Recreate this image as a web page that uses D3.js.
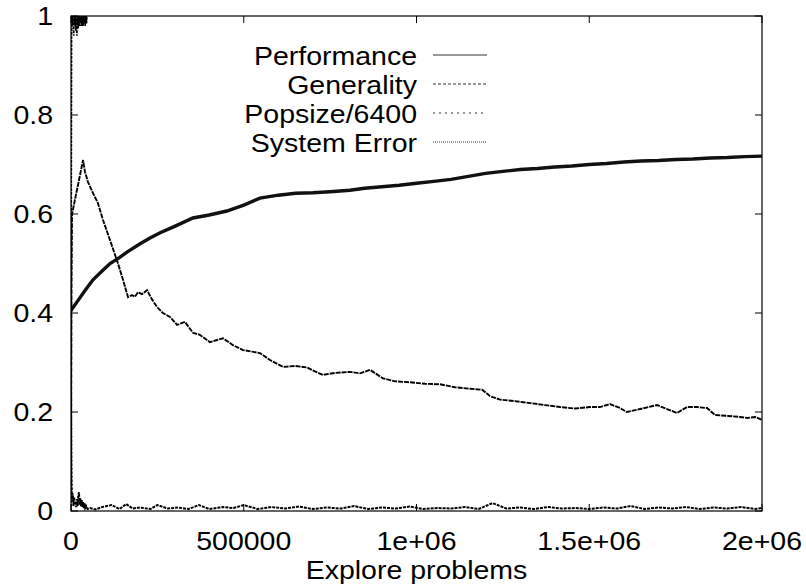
<!DOCTYPE html>
<html>
<head>
<meta charset="utf-8">
<script src="https://cdn.jsdelivr.net/npm/d3@7"></script>
<style>
  body { margin: 0; background: #fff; }
  text { font-family: "Liberation Sans", Arial, sans-serif; fill: #000; }
</style>
</head>
<body>
<script>
// values, [problems, value]
var perfPts = [[0,0.405],[20000,0.425],[40000,0.445],[63700,0.467],[90000,0.485],[113000,0.50],
  [140000,0.512],[162000,0.523],[200000,0.540],[230000,0.552],[258000,0.562],[300000,0.575],
  [353000,0.592],[400000,0.598],[451000,0.606],[500000,0.618],[547000,0.632],[600000,0.638],
  [650000,0.642],[700000,0.643],[750000,0.645],[807000,0.648],[850000,0.652],[900000,0.655],
  [950000,0.658],[1000000,0.662],[1050000,0.666],[1100000,0.670],[1150000,0.676],[1200000,0.682],
  [1250000,0.686],[1300000,0.690],[1350000,0.692],[1400000,0.695],[1450000,0.697],[1500000,0.700],
  [1550000,0.702],[1600000,0.705],[1650000,0.707],[1700000,0.708],[1750000,0.710],[1800000,0.711],
  [1850000,0.713],[1900000,0.714],[1950000,0.716],[2000000,0.717]];

var genPts = [[0,0.05],[1500,0.45],[3000,0.60],[35000,0.709],[40500,0.685],[49000,0.665],
  [63700,0.642],[78000,0.622],[92600,0.588],[113000,0.547],[136000,0.50],[150500,0.467],
  [165000,0.432],[176500,0.436],[185000,0.433],[194000,0.442],[205500,0.438],[220000,0.446],
  [234000,0.428],[249000,0.412],[266000,0.40],[286500,0.392],[307000,0.376],[330000,0.382],
  [353000,0.36],[373000,0.356],[402000,0.341],[420000,0.345],[440000,0.349],[469000,0.335],
  [498000,0.325],[524000,0.322],[547000,0.319],[576000,0.305],[614000,0.291],[648000,0.293],
  [683000,0.29],[706000,0.282],[729000,0.275],[764000,0.279],[807500,0.281],[836500,0.278],
  [865500,0.285],[903000,0.268],[938000,0.262],[981000,0.26],[1024600,0.257],[1068000,0.256],
  [1111500,0.25],[1155000,0.247],[1190000,0.245],[1213000,0.232],[1242000,0.225],[1285000,0.222],
  [1328500,0.218],[1372000,0.214],[1415000,0.21],[1459000,0.207],[1502000,0.21],[1531000,0.21],
  [1560000,0.216],[1589000,0.208],[1609000,0.20],[1647000,0.206],[1696000,0.214],[1725000,0.206],
  [1754000,0.198],[1783000,0.21],[1812000,0.21],[1841000,0.208],[1864000,0.194],[1902000,0.192],
  [1936000,0.19],[1957000,0.188],[1980000,0.19],[2000000,0.184]];

var popPts = [[0,0],[800,0.6],[1600,0.96],[2000,1.0],[3000,0.98],[4000,1.0],[5000,0.985],
  [6000,1.0],[7000,0.975],[8000,0.96],[9000,1.0],[10000,0.98],[11000,1.0],[12000,0.985],
  [13000,1.0],[14000,0.97],[15000,1.0],[16000,0.98],[17000,0.96],[18000,1.0],[19000,0.985],
  [20000,1.0],[21000,0.975],[22000,1.0],[23000,0.98],[24000,1.0],[25000,0.985],[26000,1.0],
  [27000,0.98],[28000,1.0],[29000,0.985],[30000,1.0],[31000,0.98],[32000,1.0],[33000,0.985],
  [34000,1.0],[35000,0.98],[36000,1.0],[37000,0.985],[38000,1.0],[39000,0.985],[40000,1.0],
  [41000,0.98],[42000,1.0],[43000,0.985],[44000,1.0],[45000,0.985],[46000,1.0],[48000,1.03],
  [60000,1.06],[2000000,1.06]];

var errPts = [[0,0.25],[1000,0.12],[2000,0.05],[3500,0.02],[5000,0.036],[7000,0.01],[9000,0.028],
  [11000,0.012],[13000,0.02],[15000,0.008],[17000,0.024],[19000,0.01],[21000,0.03],[23000,0.038],
  [25000,0.012],[27000,0.026],[29000,0.01],[31000,0.022],[33000,0.008],[35000,0.018],[37000,0.006],
  [39000,0.016],[41000,0.006],[44000,0.01],[48000,0.004],[55000,0.006],[70000,0.003],[90000,0.008],
  [118000,0.012],[140000,0.004],[160000,0.014],[178000,0.005],[200000,0.007],[230000,0.004],
  [250000,0.012],[280000,0.005],[310000,0.007],[340000,0.004],[370000,0.012],[400000,0.004],
  [440000,0.008],[470000,0.006],[500000,0.012],[540000,0.004],[580000,0.008],[620000,0.005],
  [660000,0.009],[700000,0.004],[740000,0.007],[780000,0.005],[820000,0.010],[860000,0.004],
  [900000,0.007],[940000,0.005],[980000,0.009],[1020000,0.004],[1060000,0.006],[1100000,0.005],
  [1140000,0.008],[1180000,0.004],[1220000,0.016],[1260000,0.005],[1300000,0.007],[1340000,0.004],
  [1380000,0.008],[1420000,0.005],[1460000,0.006],[1500000,0.004],[1540000,0.007],[1580000,0.005],
  [1620000,0.010],[1660000,0.004],[1700000,0.007],[1740000,0.005],[1780000,0.008],[1820000,0.004],
  [1860000,0.007],[1900000,0.005],[1940000,0.008],[1980000,0.004],[2000000,0.006]];

var xTicks = [0, 500000, 1000000, 1500000, 2000000];
var xTickLabels = ["0", "500000", "1e+06", "1.5e+06", "2e+06"];
var yTicks = [0, 0.2, 0.4, 0.6, 0.8, 1];
var yTickLabels = ["0", "0.2", "0.4", "0.6", "0.8", "1"];
var seriesNames = ["Performance", "Generality", "Popsize/6400", "System Error"];

var margin = {top: 16, right: 44, bottom: 77, left: 71},
	width = 806 - margin.left - margin.right,
	height = 588 - margin.top - margin.bottom;

var stretch = 1.14; // labels are drawn a bit wide

var x = d3.scaleLinear().domain([0, 2000000]).range([0, width]);
var y = d3.scaleLinear().domain([0, 1]).range([height, 0]);

var svg = d3.select('body').append('svg')
	.attr('width', 806)
	.attr('height', 588);

var main = svg.append('g')
	.attr('transform', 'translate(' + margin.left + ',' + margin.top + ')');

main.append('clipPath').attr('id', 'plotclip')
	.append('rect').attr('x', 0).attr('y', 0).attr('width', width).attr('height', height);

function label(g, px, py, str, anchor) {
	g.append('text')
		.attr('transform', 'translate(' + px + ',' + py + ') scale(' + stretch + ',1)')
		.attr('text-anchor', anchor)
		.style('font-size', '25px')
		.text(str);
}

// ticks (inside, mirrored) and labels
var tickLen = 7;
yTicks.forEach(function(v, i) {
	main.append('line').attr('x1', 0).attr('x2', tickLen).attr('y1', y(v)).attr('y2', y(v))
		.attr('stroke', '#000');
	main.append('line').attr('x1', width).attr('x2', width - tickLen).attr('y1', y(v)).attr('y2', y(v))
		.attr('stroke', '#000');
	label(main, -18, y(v) + 9, yTickLabels[i], 'end');
});
xTicks.forEach(function(v, i) {
	main.append('line').attr('x1', x(v)).attr('x2', x(v)).attr('y1', height).attr('y2', height - tickLen)
		.attr('stroke', '#000');
	main.append('line').attr('x1', x(v)).attr('x2', x(v)).attr('y1', 0).attr('y2', tickLen)
		.attr('stroke', '#000');
	label(main, x(v), height + 39, xTickLabels[i], 'middle');
});
label(main, width / 2, height + 68, 'Explore problems', 'middle');

// series
var line = d3.line()
	.x(function(d) { return x(d[0]); })
	.y(function(d) { return y(d[1]); });

var plot = main.append('g').attr('clip-path', 'url(#plotclip)');

var styles = [
	{pts: perfPts, width: 3.4, dash: null, color: '#111'},
	{pts: genPts, width: 1.9, dash: '5,1', color: '#000'},
	{pts: popPts, width: 1.6, dash: '3,1', color: '#000'},
	{pts: errPts, width: 2, dash: '3,1', color: '#000'}
];
var legendDash = [null, '3,2', '2,4', '1,1'];

styles.forEach(function(s) {
	plot.append('path')
		.datum(s.pts)
		.attr('d', line)
		.attr('fill', 'none')
		.attr('stroke', s.color)
		.attr('stroke-width', s.width)
		.attr('stroke-dasharray', s.dash);
});

// legend
var legend = main.append('g');
seriesNames.forEach(function(name, i) {
	var ly = 39 + i * 29;
	label(legend, 346, ly + 10, name, 'end');
	legend.append('line')
		.attr('x1', 362).attr('x2', 416).attr('y1', ly).attr('y2', ly)
		.attr('stroke', '#333')
		.attr('stroke-width', 1)
		.attr('stroke-dasharray', legendDash[i]);
});

// border
main.append('rect')
	.attr('x', 0).attr('y', 0).attr('width', width).attr('height', height)
	.attr('fill', 'none')
	.attr('stroke', '#000')
	.attr('stroke-width', 1.2);
</script>
</body>
</html>
